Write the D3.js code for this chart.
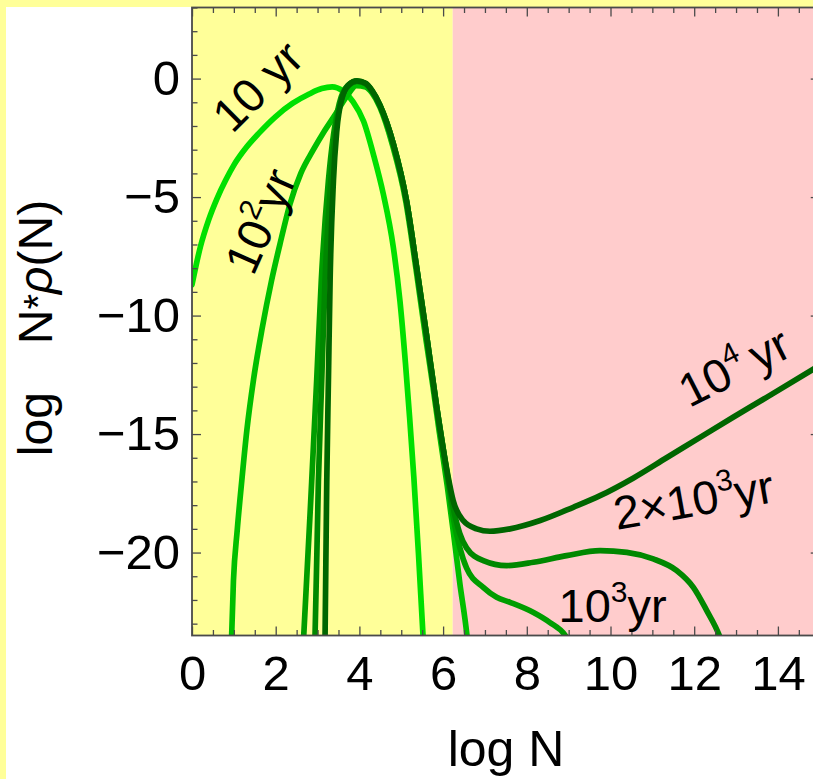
<!DOCTYPE html>
<html>
<head>
<meta charset="utf-8">
<script src="https://cdn.jsdelivr.net/npm/d3@7"></script>
<style>
  html, body { margin: 0; padding: 0; background: #ffff99; }
  svg { display: block; }
  text { font-family: "Liberation Sans", Arial, Helvetica, sans-serif; fill: #000; }
</style>
</head>
<body>
<svg id="chart" width="813" height="779"></svg>
<script>
// ---- data -------------------------------------------------------------
const xTickLabels = [0, 2, 4, 6, 8, 10, 12, 14];
const yTickLabels = [0, -5, -10, -15, -20];
const regimeBoundary = 6.23;          // log N where the shaded regime changes

const seriesNames = ["10 yr", "10^2 yr", "10^3 yr", "2x10^3 yr", "10^4 yr"];
const seriesColors = ["#00e000", "#00bf00", "#009d00", "#008800", "#006600"];

// 10 yr
const x10 = [0, 0.2, 0.4, 0.6, 0.8, 1.0, 1.3, 1.6, 2.0, 2.4, 2.8, 3.1, 3.35, 3.6, 3.85, 4.1, 4.35, 4.57, 4.81, 4.97, 5.1, 5.2, 5.3, 5.41, 5.52, 5.57];
const y10 = [-8.7, -7.1, -5.95, -5.05, -4.3, -3.65, -2.9, -2.3, -1.6, -1.05, -0.65, -0.42, -0.35, -0.52, -0.98, -1.8, -3.3, -4.86, -7.11, -9.4, -12.0, -14.3, -16.8, -20.0, -23.5, -25.0];

// 10^2 yr
const x100 = [0.92, 0.99, 1.08, 1.19, 1.31, 1.47, 1.67, 1.9, 2.1, 2.34, 2.6, 2.9, 3.15, 3.4, 3.7, 3.93, 4.15, 4.3, 4.49, 4.79, 5.11, 5.35, 5.59, 5.75, 5.9, 6.1, 6.25, 6.4, 6.57, 6.62];
const y100 = [-25.0, -21.2, -19.07, -16.96, -14.85, -12.7, -10.6, -8.53, -7.0, -5.3, -4.0, -3.0, -2.25, -1.58, -0.75, -0.3, -0.35, -0.6, -1.2, -2.8, -5.2, -8.0, -11.0, -12.9, -14.8, -17.2, -19.2, -21.3, -23.5, -24.4];

// 10^3 yr
const x1k = [2.62, 2.67, 2.86, 2.98, 3.09, 3.26, 3.38, 3.52, 3.72, 3.94, 4.15, 4.3, 4.49, 4.81, 5.13, 5.37, 5.61, 5.85, 6.0, 6.12, 6.25, 6.4, 6.56, 6.96, 7.28, 7.6, 8.16, 8.55, 8.92, 9.05];
const y1k = [-25.0, -23.5, -17.0, -12.7, -8.5, -4.3, -2.4, -1.05, -0.3, -0.12, -0.22, -0.52, -1.12, -2.75, -5.2, -8.0, -10.9, -13.9, -15.6, -17.0, -18.6, -19.8, -20.65, -21.47, -21.89, -22.1, -22.53, -22.95, -23.5, -23.9];

// 2x10^3 yr
const x2k = [2.9, 2.94, 3.02, 3.10, 3.18, 3.32, 3.42, 3.55, 3.75, 3.94, 4.15, 4.3, 4.49, 4.81, 5.13, 5.37, 5.61, 5.85, 6.0, 6.12, 6.24, 6.4, 6.56, 6.96, 7.52, 8.16, 8.95, 9.75, 10.39, 11.02, 11.58, 11.98, 12.3, 12.6, 12.72];
const y2k = [-25.0, -23.5, -17.0, -12.7, -8.5, -4.3, -2.3, -1.0, -0.28, -0.11, -0.22, -0.52, -1.12, -2.75, -5.2, -8.0, -10.9, -13.9, -15.6, -16.9, -18.1, -19.2, -19.8, -20.34, -20.55, -20.41, -20.13, -19.92, -19.99, -20.27, -20.76, -21.47, -22.45, -23.5, -24.1];

// 10^4 yr
const x10k = [3.17, 3.18, 3.22, 3.26, 3.30, 3.38, 3.46, 3.58, 3.75, 3.94, 4.15, 4.3, 4.49, 4.81, 5.13, 5.37, 5.61, 5.85, 6.0, 6.12, 6.24, 6.48, 6.8, 7.12, 7.6, 8.32, 9.11, 9.75, 10.55, 11.34, 12.14, 12.93, 13.73, 15.0];
const y10k = [-25.0, -23.5, -17.0, -12.7, -8.5, -4.3, -2.2, -0.85, -0.25, -0.1, -0.2, -0.5, -1.12, -2.75, -5.2, -8.0, -10.9, -13.9, -15.6, -16.8, -17.8, -18.65, -19.0, -19.1, -19.0, -18.65, -18.09, -17.6, -16.85, -16.0, -15.14, -14.29, -13.45, -12.1];

const seriesX = [x10, x100, x1k, x2k, x10k];
const seriesY = [y10, y100, y1k, y2k, y10k];

// curve labels: text pieces [base, superscript, tail], anchor in data units, rotation
const labelParts = [["10 yr", "", ""], ["10", "2", "yr"], ["10", "4", "\u2009yr"], ["2\u00d710", "3", "yr"], ["10", "3", "yr"]];
const labelX = [1.56, 1.62, 12.95, 11.98, 10.05];
const labelY = [-0.3, -6.0, -12.15, -17.75, -22.2];
const labelAngle = [-45, -66, -27, -10, 0];

// ---- layout -------------------------------------------------------------
const svg = d3.select("#chart");
const W = 813, H = 779;

// slide background and white panel
svg.append("rect").attr("x", 0).attr("y", 0).attr("width", W).attr("height", H).attr("fill", "#ffff99");
svg.append("rect").attr("x", 6).attr("y", 7).attr("width", W - 6).attr("height", H - 7).attr("fill", "#ffffff");

const x = d3.scaleLinear().domain([0, 15]).range([192, 819.75]);
const y = d3.scaleLinear().domain([-23.5, 3]).range([635.5, 7.5]);
const [x0, x1] = x.range();
const [yb, yt] = y.range();

// regime shading
svg.append("rect").attr("x", x0).attr("y", yt).attr("width", x(regimeBoundary) - x0).attr("height", yb - yt).attr("fill", "#ffff99");
svg.append("rect").attr("x", x(regimeBoundary)).attr("y", yt).attr("width", x1 - x(regimeBoundary)).attr("height", yb - yt).attr("fill", "#ffcccc");

svg.append("clipPath").attr("id", "plotClip")
  .append("rect").attr("x", x0).attr("y", yt).attr("width", x1 - x0).attr("height", yb - yt);

// curves
const line = d3.line().x(d => x(d[0])).y(d => y(d[1])).curve(d3.curveMonotoneX);
const curves = svg.append("g").attr("clip-path", "url(#plotClip)");
seriesX.forEach((xs, i) => {
  const pts = xs.map((v, j) => [v, seriesY[i][j]]);
  curves.append("path")
    .attr("d", line(pts))
    .attr("fill", "none")
    .attr("stroke", seriesColors[i])
    .attr("stroke-width", 5.7)
    .attr("stroke-linejoin", "round")
    .attr("stroke-linecap", "round");
});

// frame ticks (inward), majors and minors
const frameColor = "#4a4a4a";
function ticks(axisGen, scale, values, size, transform) {
  const g = svg.append("g").attr("transform", transform)
    .call(axisGen(scale).tickValues(values).tickSize(size).tickFormat(""));
  g.select(".domain").remove();
  g.selectAll(".tick line").attr("stroke", frameColor).attr("stroke-width", 1.3);
  return g;
}
const xMajor = d3.range(0, 15.01, 2);
const xMinor = d3.range(0, 15.01, 0.5).filter(v => v % 2 !== 0);
const yMajor = d3.range(-20, 3.01, 5);
const yMinor = d3.range(-23, 3.01, 1).filter(v => v % 5 !== 0);

ticks(d3.axisBottom, x, xMajor, -9, `translate(0,${yb})`);
ticks(d3.axisBottom, x, xMinor, -5.5, `translate(0,${yb})`);
ticks(d3.axisTop, x, xMajor, -9, `translate(0,${yt})`);
ticks(d3.axisTop, x, xMinor, -5.5, `translate(0,${yt})`);
ticks(d3.axisLeft, y, yMajor, -9, `translate(${x0},0)`);
ticks(d3.axisLeft, y, yMinor, -5.5, `translate(${x0},0)`);
ticks(d3.axisRight, y, yMajor, -9, `translate(${x1},0)`);
ticks(d3.axisRight, y, yMinor, -5.5, `translate(${x1},0)`);

// frame
svg.append("rect").attr("x", x0).attr("y", yt).attr("width", x1 - x0).attr("height", yb - yt)
  .attr("fill", "none").attr("stroke", frameColor).attr("stroke-width", 1.8);

// tick labels
const fmt = v => (v < 0 ? "\u2212" : "") + Math.abs(v);
const xLab = svg.append("g")
  .attr("transform", `translate(0,${yb})`)
  .call(d3.axisBottom(x).tickValues(xTickLabels).tickSize(0).tickPadding(20).tickFormat(fmt));
xLab.select(".domain").remove();
xLab.selectAll("text").attr("font-size", 49).attr("font-family", "Liberation Sans, Arial, sans-serif").attr("fill", "#000");

const yLab = svg.append("g")
  .attr("transform", `translate(${x0},0)`)
  .call(d3.axisLeft(y).tickValues(yTickLabels).tickSize(0).tickPadding(12).tickFormat(fmt));
yLab.select(".domain").remove();
yLab.selectAll("text").attr("font-size", 49).attr("font-family", "Liberation Sans, Arial, sans-serif").attr("fill", "#000");

// axis titles
svg.append("text").attr("x", (x0 + 820) / 2).attr("y", 766)
  .attr("text-anchor", "middle").attr("font-size", 50).text("log N");

const yt1 = svg.append("text")
  .attr("transform", `translate(52,${328}) rotate(-90)`)
  .attr("text-anchor", "middle").attr("font-size", 48);
yt1.append("tspan").text("log\u2002\u2002N");
yt1.append("tspan").attr("font-size", 40).text("*");
yt1.append("tspan").attr("font-style", "italic").text("\u03c1");
yt1.append("tspan").text("(N)");

// curve labels
const labelSize = 47, supSize = 30, supRise = 20;
labelParts.forEach((p, i) => {
  const t = svg.append("text")
    .attr("transform", `translate(${x(labelX[i])},${y(labelY[i])}) rotate(${labelAngle[i]})`)
    .attr("text-anchor", "middle")
    .attr("y", labelSize * 0.36)
    .attr("font-size", labelSize);
  t.append("tspan").text(p[0]);
  if (p[1]) {
    t.append("tspan").attr("font-size", supSize).attr("dy", -supRise).text(p[1]);
    t.append("tspan").attr("dy", supRise).text(p[2]);
  }
});
</script>
</body>
</html>
